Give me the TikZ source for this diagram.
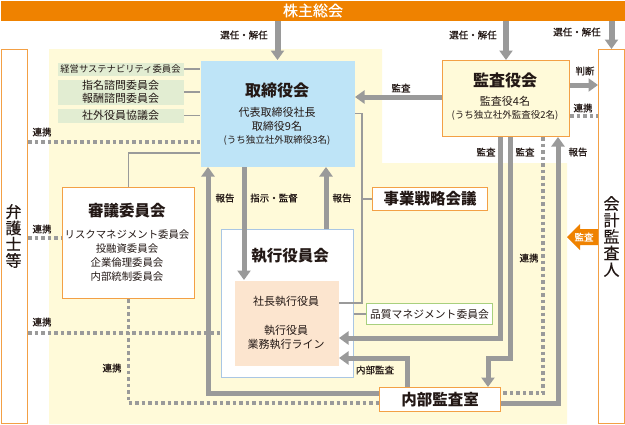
\documentclass[tikz,border=0pt]{standalone}
\usepackage{fontspec}
\setmainfont{Noto Sans CJK JP}
\newfontfamily\jpmed{Noto Sans CJK JP}[FakeBold=0.6]
\newfontfamily\jpsemi{Noto Sans CJK JP}[FakeBold=0.35]
\usetikzlibrary{arrows.meta}
\definecolor{topor}{HTML}{EF8200}
\definecolor{bord}{HTML}{F3A045}
\definecolor{bgy}{HTML}{FFFAD9}
\definecolor{tbblue}{HTML}{BEE4F7}
\definecolor{cgreen}{HTML}{E2EDD2}
\definecolor{peach}{HTML}{FCE5CF}
\definecolor{exbord}{HTML}{A9C6E4}
\definecolor{qgreen}{HTML}{A8D07E}
\definecolor{lgray}{HTML}{9A9A9A}
\definecolor{txt}{HTML}{231815}
\begin{document}
\begin{tikzpicture}[x=1pt,y=-1pt,
  every node/.style={inner sep=0pt, text=txt},
  rbox/.style={anchor=north west, line width=1pt},
  lab/.style={font=\jpmed\fontsize{9.5}{11}\selectfont},
  ttl/.style={font=\fontsize{15.5}{17}\selectfont\bfseries},
  thk/.style={draw=lgray, line width=5pt},
  arr/.style={thk, -{Triangle[width=13pt,length=9.5pt]}},
  dotl/.style={draw=lgray, line width=3.5pt, dash pattern=on 3.5pt off 3pt},
  thn/.style={draw=lgray, line width=1.5pt},
]
\useasboundingbox (0,0) rectangle (625,424);
\fill[bgy] (49,49) -- (382,49) -- (382,163) -- (567,163) -- (567,424) -- (49,424) -- cycle;

% top bar
\node[rbox, fill=topor, minimum width=625pt, minimum height=20pt, text=white, font=\jpsemi\fontsize{15}{16}\selectfont] (top) at (0,0) {株主総会};

% side boxes
\node[rbox, draw=bord, fill=white, minimum width=26.5pt, minimum height=374pt] (bengo) at (0.5,49) {};
\node[font=\jpsemi\fontsize{16}{16.3}\selectfont, align=center] (bengot) at (13.5,236) {弁\\護\\士\\等};
\node[rbox, draw=bord, fill=white, minimum width=26pt, minimum height=374pt] (kaikei) at (598,49) {};
\node[font=\jpsemi\fontsize{16}{16.5}\selectfont, align=center] (kaikeit) at (kaikei.center) {会\\計\\監\\査\\人};

% committees
\node[rbox, fill=cgreen, minimum width=126pt, minimum height=13pt, font=\fontsize{9.3}{11}\selectfont] (c1) at (57,62) {経営サステナビリティ委員会};
\node[rbox, fill=cgreen, minimum width=126pt, minimum height=25pt, align=center, font=\fontsize{11}{12.5}\selectfont] (c2) at (57,79) {指名諮問委員会\\報酬諮問委員会};
\node[rbox, fill=cgreen, minimum width=126pt, minimum height=14pt, font=\fontsize{11}{12}\selectfont] (c3) at (57,108) {社外役員協議会};

% board
\node[rbox, fill=tbblue, minimum width=154pt, minimum height=106pt] (tb) at (200,60) {};
\node[font=\fontsize{16}{18}\selectfont\bfseries] (tbt) at (277,90) {取締役会};
\node[font=\fontsize{11}{12}\selectfont] (tb1) at (277,112) {代表取締役社長};
\node[font=\fontsize{11}{12}\selectfont] (tb2) at (277,126) {取締役9名};
\node[font=\fontsize{9.5}{11}\selectfont] (tb3) at (277,140) {(うち独立社外取締役3名)};

% audit board
\node[rbox, draw=bord, fill=bgy, minimum width=127pt, minimum height=76pt] (kansa) at (442,60) {};
\node[font=\fontsize{16}{18}\selectfont\bfseries] (kansat) at (505,80) {監査役会};
\node[font=\fontsize{11}{12}\selectfont] (kansa1) at (505,101) {監査役4名};
\node[font=\fontsize{9.5}{11}\selectfont] (kansa2) at (505,115) {(うち独立社外監査役2名)};

% deliberation committee
\node[rbox, draw=bord, fill=white, minimum width=132pt, minimum height=111pt] (shingi) at (62,187) {};
\node[ttl] (shingit) at (127,211) {審議委員会};
\node[font=\fontsize{10.4}{12}\selectfont] (sh1) at (127,235) {リスクマネジメント委員会};
\node[font=\fontsize{10.4}{12}\selectfont] (sh2) at (127,249) {投融資委員会};
\node[font=\fontsize{10.4}{12}\selectfont] (sh3) at (127,263) {企業倫理委員会};
\node[font=\fontsize{10.4}{12}\selectfont] (sh4) at (127,277) {内部統制委員会};

% executive committee
\node[rbox, draw=exbord, fill=white, minimum width=132pt, minimum height=148pt] (exec) at (221,229) {};
\node[ttl] (exect) at (290,256) {執行役員会};
\node[rbox, fill=peach, minimum width=104pt, minimum height=85pt] (peach) at (234,280) {};
\node[font=\fontsize{11}{12}\selectfont] (pe1) at (286,301) {社長執行役員};
\node[font=\fontsize{11}{12}\selectfont] (pe2) at (286,330) {執行役員};
\node[font=\fontsize{11}{12}\selectfont] (pe3) at (286,344) {業務執行ライン};

% other boxes
\node[rbox, draw=bord, fill=white, minimum width=115pt, minimum height=23pt, ttl] (jigyo) at (372,187) {事業戦略会議};
\node[rbox, draw=qgreen, fill=white, minimum width=126pt, minimum height=21pt, font=\fontsize{10.8}{12}\selectfont] (hinshitsu) at (366,303) {品質マネジメント委員会};
\node[rbox, draw=bord, fill=white, minimum width=121pt, minimum height=24pt, ttl] (naibu) at (379,387) {内部監査室};

% arrows from shareholders
\draw[arr, line width=6pt] (tb.north |- top.south) -- (tb.north);
\draw[arr, line width=6pt] (kansa.north |- top.south) -- (kansa.north);
\draw[arr, line width=6pt] (kaikei.north |- top.south) -- (kaikei.north);

% thin connectors
\draw[thn] (c1.east) -- (c1.east -| tb.west);
\draw[thn] (c2.east) -- (c2.east -| tb.west);
\draw[thn] (c3.east) -- (c3.east -| tb.west);
\draw[thn] (shingi.north) |- (tb.west |- 0,153);
\draw[thn] (tb.east) -| (362,303) -- (peach.east |- 0,303);
\draw[thn] (jigyo.west) -- (jigyo.west -| 362,0);
\draw[thn] (exec.east |- hinshitsu.west) -- (hinshitsu.west);

% dotted cooperation lines
\draw[dotl] (bengo.east |- 0,142) -- (tb.west |- 0,142);
\draw[dotl] (bengo.east |- 0,238) -- (shingi.west |- 0,238);
\draw[dotl] (bengo.east |- 0,333) -- (exec.west |- 0,333);
\draw[dotl] (shingi.south) |- (naibu.west |- 0,403);
\draw[dotl] (kansa.east |- 0,116) -- (kaikei.west |- 0,116);
\draw[dotl] (kansa.south -| 543,0) |- (naibu.east |- 0,393);

% thick arrows
\draw[arr] (naibu.west |- 0,393) -| (tb.south -| 208,0);
\draw[arr] (tb.south -| 244,0) -- (peach.north -| 244,0);
\draw[arr] (exec.north -| 326,0) -- (tb.south -| 326,0);
\draw[arr] (kansa.west |- 0,97) -- (tb.east |- 0,97);
\draw[arr] (kansa.east |- 0,85) -- (kaikei.west |- 0,85);
\draw[arr] (kansa.south -| 500,0) |- (peach.east |- 0,338);
\draw[arr] (kansa.south -| 510,0) -- (510,358) -| (naibu.north -| 488,0);
\draw[arr] (naibu.east |- 0,403) -| (kansa.south -| 558,0);
\draw[arr] (naibu.north -| 407,0) |- (peach.east |- 0,358);

% orange audit arrow
\fill[topor] (567,237) -- (580,224) -- (580,229) -- (kaikei.west |- 0,229) -- (kaikei.west |- 0,245) -- (580,245) -- (580,250) -- cycle;
\node[lab, text=white] (oarr) at (584,237) {監査};

% labels
\node[lab] (l1) at (244,35) {選任・解任};
\node[lab] (l2) at (473,35) {選任・解任};
\node[lab] (l3) at (577,32) {選任・解任};
\node[lab] (l4) at (401,88) {監査};
\node[lab] (l5) at (585,71) {判断};
\node[lab] (l6) at (583,108) {連携};
\node[lab] (l7) at (42,132) {連携};
\node[lab] (l8) at (42,229) {連携};
\node[lab] (l9) at (42,322) {連携};
\node[lab] (l10) at (112,368) {連携};
\node[lab] (l11) at (225,198) {報告};
\node[lab] (l12) at (274,198) {指示・監督};
\node[lab] (l13) at (342,198) {報告};
\node[lab] (l14) at (486,152) {監査};
\node[lab] (l15) at (525,152) {監査};
\node[lab] (l16) at (578,152) {報告};
\node[lab] (l17) at (529,258) {連携};
\node[lab] (l18) at (375,370) {内部監査};
\end{tikzpicture}
\end{document}
